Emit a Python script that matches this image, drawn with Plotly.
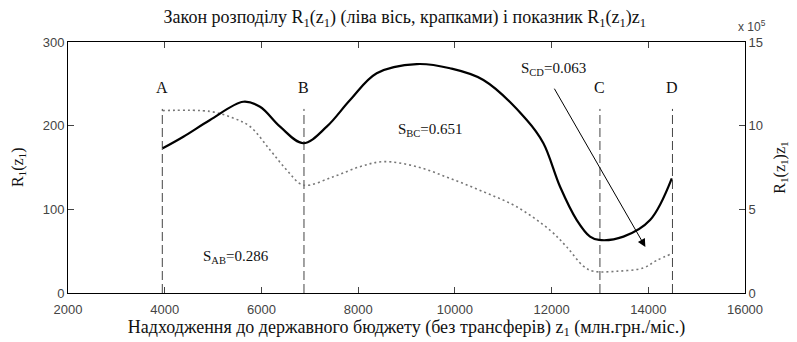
import plotly.graph_objects as go

# --- data ---
z_dot = [3958, 4937, 5419, 5764, 6178, 6523, 6867, 7487, 8039, 8522, 9211, 9900,
         10590, 11280, 11969, 12314, 12658, 12865, 13348, 13899, 14175, 14486]
r1_dot = [218, 217, 209, 199, 171, 147, 129, 139, 151, 157, 151, 137,
          121, 103, 75, 55, 32, 26, 26, 30, 39, 47]

z_sol = [3958, 4385, 4937, 5626, 5971, 6385, 6867, 7350, 7833, 8384, 9211, 9900,
         10590, 11487, 11831, 12176, 12521, 12796, 12982, 13486, 14037, 14486]
r1z_sol = [8.65e5, 9.34e5, 10.34e5, 11.43e5, 11.13e5, 9.94e5, 8.95e5, 9.94e5, 11.53e5,
           13.13e5, 13.68e5, 13.43e5, 12.73e5, 10.34e5, 8.95e5, 6.35e5, 4.36e5,
           3.37e5, 3.17e5, 3.37e5, 4.36e5, 6.85e5]

bound_names = ["A", "B", "C", "D"]
bound_z = [3950, 6880, 13000, 14500]
bound_top = 220
label_y = 246

x_ticks = [2000, 4000, 6000, 8000, 10000, 12000, 14000, 16000]
x_ticktext = ["2000", "4000", "6000", "8000", "10000", "12000", "14000", "16000"]
y_ticks = [0, 100, 200, 300]
y2_ticks = [0, 5e5, 10e5, 15e5]
y2_ticktext = ["0", "5", "10", "15"]

s_labels = ["S<sub>AB</sub>=0.286", "S<sub>BC</sub>=0.651", "S<sub>CD</sub>=0.063"]
s_x = [5475, 9490, 12030]
s_y = [43, 195, 268]
arrow_tail = (12040, 246)
arrow_head = (13940, 55)

serif = "Liberation Serif, Times New Roman, serif"
sans = "Liberation Sans, Arial, sans-serif"
tick_color = "#444"

fig = go.Figure()

for name, zb in zip(bound_names, bound_z):
    fig.add_trace(go.Scatter(x=[zb, zb], y=[0, bound_top], mode="lines",
                             line=dict(color="#444", width=1, dash="9px,4px"),
                             showlegend=False, hoverinfo="skip"))
    fig.add_annotation(x=zb, y=label_y, text=name, showarrow=False,
                       font=dict(family=serif, size=16, color="#111"))

fig.add_trace(go.Scatter(x=z_dot, y=r1_dot, mode="lines", line_shape="spline",
                         line=dict(color="#777", width=1.6, dash="2px,3px"),
                         showlegend=False))
fig.add_trace(go.Scatter(x=z_sol, y=r1z_sol, mode="lines", line_shape="spline",
                         line=dict(color="#000", width=2.2), yaxis="y2",
                         showlegend=False))

for t, xx, yy in zip(s_labels, s_x, s_y):
    fig.add_annotation(x=xx, y=yy, text=t, showarrow=False,
                       font=dict(family=serif, size=15, color="#111"))

fig.add_annotation(x=arrow_head[0], y=arrow_head[1], ax=arrow_tail[0], ay=arrow_tail[1],
                   xref="x", yref="y", axref="x", ayref="y", text="",
                   showarrow=True, arrowhead=2, arrowsize=1.6, arrowwidth=1,
                   arrowcolor="#000")

fig.add_annotation(x=1.0, y=1.0, xref="paper", yref="paper", xanchor="left",
                   yanchor="bottom", yshift=6, xshift=-9,
                   text="x 10<sup>5</sup>", showarrow=False,
                   font=dict(family=sans, size=12, color=tick_color))

fig.add_annotation(x=-0.073, y=0.5, xref="paper", yref="paper", xanchor="center",
                   yanchor="middle",
                   text="R<sub>1</sub>(z<sub>1</sub>)", textangle=-90, showarrow=False,
                   font=dict(family=serif, size=16, color="#111"))
fig.add_annotation(x=1.052, y=0.5, xref="paper", yref="paper", xanchor="center",
                   yanchor="middle",
                   text="R<sub>1</sub>(z<sub>1</sub>)z<sub>1</sub>", textangle=-90,
                   showarrow=False, font=dict(family=serif, size=16, color="#111"))

fig.update_layout(
    width=797, height=342,
    margin=dict(l=68, r=52, t=42, b=49),
    paper_bgcolor="white", plot_bgcolor="white",
    title=dict(text="Закон розподілу R<sub>1</sub>(z<sub>1</sub>) (ліва вісь, крапками) і показник R<sub>1</sub>(z<sub>1</sub>)z<sub>1</sub>",
               x=0.508, xanchor="center", y=0.95, yanchor="middle",
               font=dict(family=serif, size=18, color="#111")),
    xaxis=dict(range=[2000, 16000], tickvals=x_ticks, ticktext=x_ticktext,
               ticks="inside", ticklen=6, ticklabelstandoff=4,
               showline=True, linecolor="#000", linewidth=1, mirror="ticks",
               showgrid=False, zeroline=False,
               tickfont=dict(family=sans, size=13, color=tick_color),
               title=dict(text="Надходження до державного бюджету (без трансферів) z<sub>1</sub> (млн.грн./міс.)",
                          font=dict(family=serif, size=18, color="#111"), standoff=0)),
    yaxis=dict(range=[0, 300], tickvals=y_ticks, ticks="inside", ticklen=6,
               showline=True, linecolor="#000", linewidth=1, showgrid=False,
               zeroline=False, tickfont=dict(family=sans, size=13, color=tick_color)),
    yaxis2=dict(range=[0, 15e5], tickvals=y2_ticks, ticktext=y2_ticktext,
                overlaying="y", side="right", ticks="inside", ticklen=6,
                showline=True, linecolor="#000", linewidth=1, showgrid=False,
                zeroline=False, tickfont=dict(family=sans, size=13, color=tick_color)),
)

fig.write_html("out.html")
